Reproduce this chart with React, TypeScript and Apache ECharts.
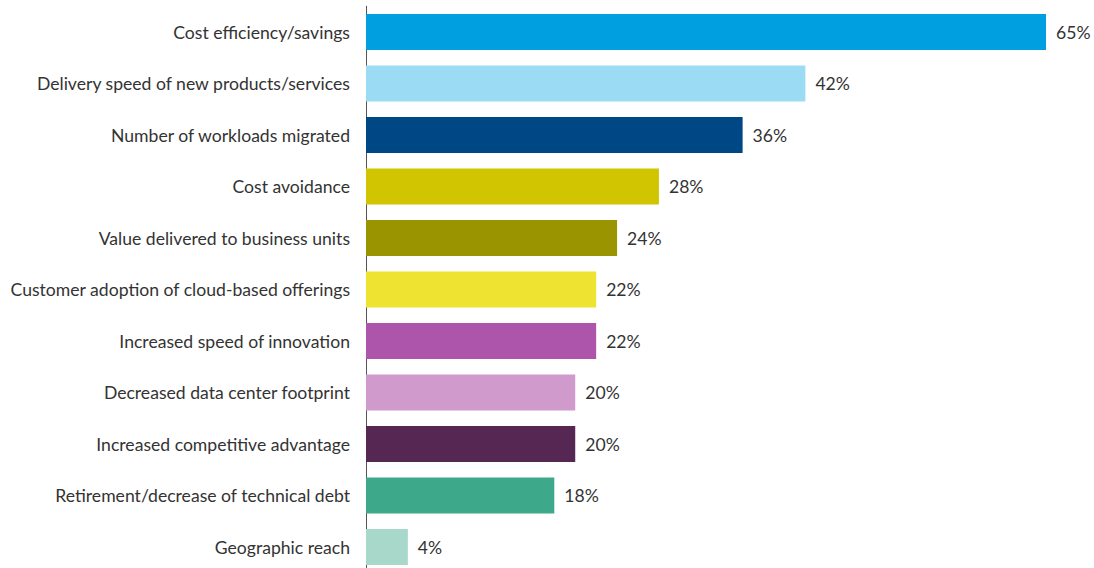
import React, { useEffect, useRef } from "react";
import * as echarts from "echarts";

const categories = [
  "Cost efficiency/savings",
  "Delivery speed of new products/services",
  "Number of workloads migrated",
  "Cost avoidance",
  "Value delivered to business units",
  "Customer adoption of cloud-based offerings",
  "Increased speed of innovation",
  "Decreased data center footprint",
  "Increased competitive advantage",
  "Retirement/decrease of technical debt",
  "Geographic reach",
];
const values = [65, 42, 36, 28, 24, 22, 22, 20, 20, 18, 4];
const colors = [
  "#00A0E0",
  "#9BDBF3",
  "#004785",
  "#D0C500",
  "#9A9400",
  "#EDE330",
  "#AD55AB",
  "#D09ACD",
  "#552752",
  "#3DA98A",
  "#A8D8CA",
];

export default function App() {
  const ref = useRef<HTMLDivElement>(null);
  useEffect(() => {
    document.body.style.margin = "0";
    const chart = echarts.init(ref.current!, null, { renderer: "svg" });
    chart.setOption({
      animation: false,
      grid: { left: 366, right: 48, top: 6.25, bottom: 2.25, containLabel: false },
      xAxis: { type: "value", min: 0, max: 65, show: false },
      yAxis: {
        type: "category",
        inverse: true,
        data: categories,
        axisLine: { show: true, lineStyle: { color: "#555", width: 1 } },
        axisTick: { show: false },
        axisLabel: {
          color: "#333",
          fontSize: 17.6,
          fontFamily: "Lato",
          margin: 16,
        },
      },
      series: [
        {
          type: "bar",
          barWidth: 36,
          data: values.map((v, i) => ({ value: v, itemStyle: { color: colors[i] } })),
          label: {
            show: true,
            position: "right",
            distance: 10,
            formatter: "{c}%",
            color: "#333",
            fontSize: 17.6,
            fontFamily: "Lato",
          },
        },
      ],
    });
    return () => chart.dispose();
  }, []);
  return (
    <div style={{ width: 1094, height: 568, overflow: "hidden" }}>
      <div ref={ref} style={{ width: 1094, height: 575 }} />
    </div>
  );
}
